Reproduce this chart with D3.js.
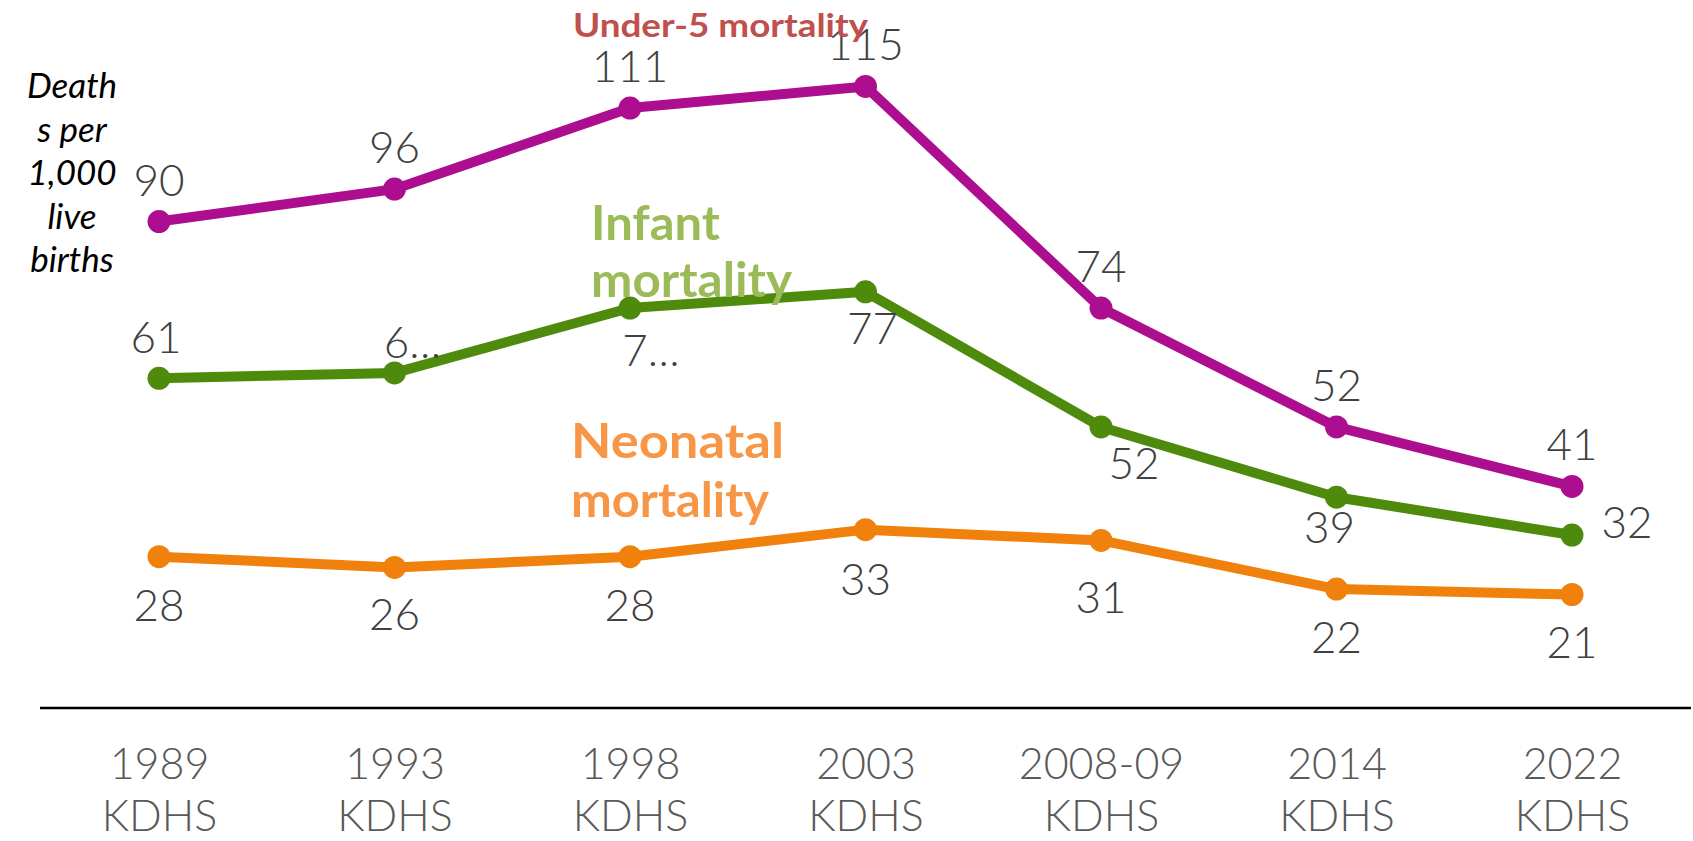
<!DOCTYPE html>
<html>
<head>
<meta charset="utf-8">
<script src="https://cdn.jsdelivr.net/npm/d3@7/dist/d3.min.js"></script>
<style>
  html, body { margin: 0; padding: 0; background: #ffffff; }
  svg { display: block; }
  text { font-family: Lato, "Open Sans", sans-serif; }
</style>
</head>
<body>
<svg id="chart" width="1693" height="841"></svg>
<script>
// Survey rounds (x categories)
const surveyYears = ["1989", "1993", "1998", "2003", "2008-09", "2014", "2022"];
const surveyName = "KDHS";

// Deaths per 1,000 live births
const under5Values   = [90, 96, 111, 115, 74, 52, 41];
const infantValues   = [61, 62, 74, 77, 52, 39, 32];
const neonatalValues = [28, 26, 28, 33, 31, 22, 21];

// Value labels as printed (two infant labels are clipped in the source layout)
const under5Labels   = ["90", "96", "111", "115", "74", "52", "41"];
const infantLabels   = ["61", "6…", "7…", "77", "52", "39", "32"];
const neonatalLabels = ["28", "26", "28", "33", "31", "22", "21"];

const yAxisTitle = ["Death", "s per", "1,000", "live", "births"];

// ---- layout ----
const W = 1693, H = 841;
const baseY = 708;
const svg = d3.select("#chart");

const x = d3.scalePoint().domain(surveyYears).range([159, 1572]);
const y = d3.scaleLinear().domain([0, 120]).range([baseY, baseY - 120 * 5.405]);

// label offsets relative to each point: [dx, dy to baseline]
const under5Offsets   = surveyYears.map(() => [0, -26]);
const infantOffsets   = [[-3, -25], [18, -15], [21, 58], [7, 52], [33, 52], [-7, 46], [55, 3]];
const neonatalOffsets = [[0, 64], [0, 63], [0, 64], [0, 65], [0, 73], [0, 64], [0, 64]];

const series = [
  { values: under5Values,   labels: under5Labels,   offsets: under5Offsets,   color: "#AC0E8F" },
  { values: infantValues,   labels: infantLabels,   offsets: infantOffsets,   color: "#4E8A0B" },
  { values: neonatalValues, labels: neonatalLabels, offsets: neonatalOffsets, color: "#F0810C" }
];

// ---- x axis ----
const xAxis = d3.axisBottom(x).tickSize(0).tickPadding(0);
const gx = svg.append("g").attr("transform", `translate(0,${baseY})`).call(xAxis);
gx.select(".domain").remove();
gx.selectAll(".tick text").remove();
gx.selectAll(".tick").each(function(d) {
  const t = d3.select(this).append("text")
    .attr("text-anchor", "middle")
    .attr("fill", "#595959")
    .attr("font-size", 43)
    .attr("font-weight", 300);
  t.append("tspan").attr("x", 0).attr("y", 71).text(d);
  t.append("tspan").attr("x", 0).attr("y", 123).text(surveyName);
});
svg.append("line")
  .attr("x1", 40).attr("x2", 1691)
  .attr("y1", baseY).attr("y2", baseY)
  .attr("stroke", "#000").attr("stroke-width", 2.5);

// ---- lines and markers ----
const line = d3.line()
  .x((d, i) => x(surveyYears[i]))
  .y(d => y(d));

series.forEach(s => {
  svg.append("path")
    .datum(s.values)
    .attr("d", line)
    .attr("fill", "none")
    .attr("stroke", s.color)
    .attr("stroke-width", 10)
    .attr("stroke-linejoin", "round");
  svg.append("g").selectAll("circle")
    .data(s.values)
    .join("circle")
    .attr("cx", (d, i) => x(surveyYears[i]))
    .attr("cy", d => y(d))
    .attr("r", 11.5)
    .attr("fill", s.color);
});

// ---- value labels ----
series.forEach(s => {
  svg.append("g").selectAll("text")
    .data(s.values)
    .join("text")
    .attr("x", (d, i) => x(surveyYears[i]) + s.offsets[i][0])
    .attr("y", (d, i) => y(d) + s.offsets[i][1])
    .attr("text-anchor", "middle")
    .attr("fill", "#404040")
    .attr("font-size", 44)
    .attr("font-weight", 300)
    .text((d, i) => s.labels[i]);
});

// ---- y axis title ----
svg.append("g").selectAll("text")
  .data(yAxisTitle)
  .join("text")
  .attr("x", 72)
  .attr("y", (d, i) => 98 + i * 43.5)
  .attr("text-anchor", "middle")
  .attr("font-style", "italic")
  .attr("font-size", 35)
  .attr("fill", "#000")
  .text(d => d);

// ---- series names ----
function seriesName(lines, x0, y0, lineGap, size, color, lengths) {
  lines.forEach((t, i) => {
    svg.append("text")
      .attr("x", x0)
      .attr("y", y0 + i * lineGap)
      .attr("font-size", size)
      .attr("font-weight", 700)
      .attr("fill", color)
      .attr("textLength", lengths[i])
      .attr("lengthAdjust", "spacingAndGlyphs")
      .text(t);
  });
}
seriesName(["Under-5 mortality"], 573, 37, 0, 33, "#C0504D", [295]);
seriesName(["Infant", "mortality"], 591, 240, 57, 48, "#9BBB59", [129, 201]);
seriesName(["Neonatal", "mortality"], 571, 458, 59, 48, "#F79646", [213, 198]);
</script>
</body>
</html>
